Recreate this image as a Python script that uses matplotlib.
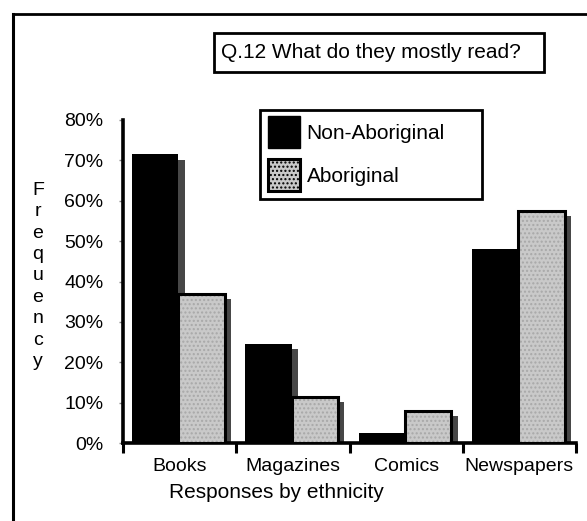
import matplotlib
matplotlib.use("Agg")
import matplotlib.pyplot as plt
from matplotlib.patches import Rectangle, Patch
from matplotlib.lines import Line2D
import numpy as np

plt.rcParams['font.family'] = ['Liberation Sans', 'DejaVu Sans']

# Survey responses (percent of each group)
categories = ["Books", "Magazines", "Comics", "Newspapers"]
non_aboriginal = [71.5, 24.5, 2.5, 48.0]
aboriginal = [37.0, 11.5, 8.0, 57.5]
series_names = ["Non-Aboriginal", "Aboriginal"]
y_ticks = [0, 10, 20, 30, 40, 50, 60, 70, 80]
y_tick_labels = [f"{v}%" for v in y_ticks]

W, H = 587, 521
fig = plt.figure(figsize=(W / 100, H / 100), dpi=100)
fig.patch.set_facecolor("white")

def fx(px):
    return px / W

def fy(py):
    return 1 - py / H

# outer page frame
fig.add_artist(Line2D([fx(13), fx(13)], [fy(14), fy(521)], color="black", lw=2.2))
fig.add_artist(Line2D([fx(13), fx(587)], [fy(14), fy(14)], color="black", lw=2.0))

ax_left, ax_right, ax_top, ax_bottom = 123, 576, 120, 443
ax = fig.add_axes([fx(ax_left), fy(ax_bottom), fx(ax_right - ax_left), (ax_bottom - ax_top) / H])

x = np.arange(len(categories))
bar_start = 0.08
bar_w = 0.41
shadow_dx = 0.055
shadow_dy = 1.3
grey = "#c9c9c9"

# drop shadows
ax.bar(x + bar_start + shadow_dx, np.array(non_aboriginal) - shadow_dy, width=bar_w,
       align="edge", color="#474747", linewidth=0, zorder=1)
ax.bar(x + bar_start + bar_w + shadow_dx, np.array(aboriginal) - shadow_dy, width=bar_w,
       align="edge", color="#474747", linewidth=0, zorder=1)

# bars
ax.bar(x + bar_start, non_aboriginal, width=bar_w, align="edge",
       color="black", linewidth=0, zorder=2, label=series_names[0])
ax.bar(x + bar_start + bar_w, aboriginal, width=bar_w, align="edge",
       color=grey, edgecolor="#a8a8a8", hatch="....", linewidth=0, zorder=3)
ax.bar(x + bar_start + bar_w, aboriginal, width=bar_w, align="edge",
       facecolor="none", edgecolor="black", linewidth=2.2, zorder=4)

ax.set_xlim(0, len(categories))
ax.set_ylim(0, 80)

for s in ["top", "right"]:
    ax.spines[s].set_visible(False)
ax.spines["left"].set_linewidth(2.6)
ax.spines["bottom"].set_linewidth(2.6)

ax.set_yticks(y_ticks)
ax.set_yticklabels(y_tick_labels, fontsize=14)
ax.tick_params(axis="y", direction="out", length=3, width=1, color="#888888", pad=11)

ax.set_xticks(np.arange(len(categories) + 1))
ax.set_xticklabels([])
ax.tick_params(axis="x", which="major", direction="out", length=7, width=2.2)
ax.set_xticks(x + 0.5, minor=True)
ax.set_xticklabels(categories, minor=True, fontsize=14)
ax.tick_params(axis="x", which="minor", length=0, pad=11)

# title box
fig.add_artist(Rectangle((fx(214), fy(72)), fx(544 - 214), (72 - 33) / H,
                         fill=False, edgecolor="black", lw=2.0))
fig.text(fx(221), fy(53), "Q.12 What do they mostly read?", fontsize=15,
         ha="left", va="center")

# legend box
fig.add_artist(Rectangle((fx(260), fy(199)), fx(482 - 260), (199 - 110) / H,
                         fill=False, edgecolor="black", lw=2.0))
handles = [Patch(facecolor="black", edgecolor="black"),
           Patch(facecolor=grey, edgecolor="black", linewidth=2.2, hatch="....")]
fig.legend(handles, series_names, loc="upper left",
           bbox_to_anchor=(fx(264), fy(112)), frameon=False, fontsize=15,
           handlelength=1.55, handleheight=1.95, labelspacing=0.55,
           handletextpad=0.3, borderpad=0.2, borderaxespad=0)

# axis labels
fig.text(fx(38), fy(276), "\n".join("Frequency"), fontsize=14, ha="center",
         va="center", multialignment="center", linespacing=1.34)
fig.text(fx(276), fy(492), "Responses by ethnicity", fontsize=15, ha="center",
         va="center")

fig.savefig("out.png", dpi=100, facecolor="white")
